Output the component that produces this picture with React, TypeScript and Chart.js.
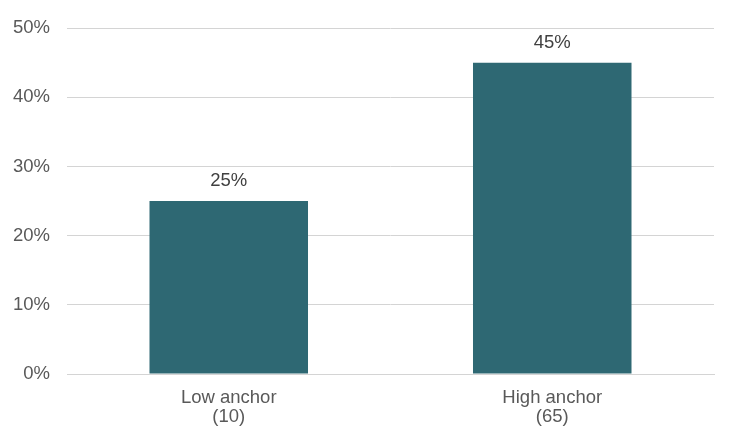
import React, { useEffect, useRef } from "react";
import { Chart, registerables } from "chart.js";

Chart.register(...registerables);

const categories: string[][] = [["Low anchor", "(10)"], ["High anchor", "(65)"]];
const values: number[] = [25, 45];
const yTicks: number[] = [0, 10, 20, 30, 40, 50];

const FONT = "'Liberation Sans', Arial, sans-serif";

const labelPlugin = {
  id: "barLabels",
  afterDatasetsDraw(chart: any) {
    const ctx = chart.ctx;
    const meta = chart.getDatasetMeta(0);
    ctx.save();
    ctx.font = `18.5px ${FONT}`;
    ctx.fillStyle = "#404040";
    ctx.textAlign = "center";
    ctx.textBaseline = "middle";
    meta.data.forEach((bar: any, i: number) => {
      ctx.fillText(`${values[i]}%`, bar.x, bar.y - 20);
    });
    ctx.restore();
  },
};

export default function App() {
  const ref = useRef<HTMLCanvasElement>(null);
  useEffect(() => {
    document.body.style.margin = "0";
    const chart = new Chart(ref.current!, {
      type: "bar",
      data: {
        labels: categories,
        datasets: [
          {
            data: values,
            backgroundColor: "#2E6873",
            categoryPercentage: 1,
            barPercentage: 0.49,
          },
        ],
      },
      options: {
        animation: false,
        responsive: false,
        maintainAspectRatio: false,
        layout: { padding: { left: 0, right: 26, top: 27, bottom: 0 } },
        plugins: { legend: { display: false }, tooltip: { enabled: false } },
        scales: {
          x: {
            grid: { display: false },
            border: { display: true, color: "#d4d4d4", width: 1 },
            ticks: {
              color: "#595959",
              font: { family: FONT, size: 18.5, lineHeight: 1.0 },
              padding: 7,
            },
            afterFit: (s: any) => {
              s.height = 442 - 374;
            },
          },
          y: {
            min: 0,
            max: 50,
            afterBuildTicks: (s: any) => {
              s.ticks = yTicks.map((v) => ({ value: v }));
            },
            grid: { color: "#d4d4d4", lineWidth: 1, drawTicks: false },
            border: { display: false },
            ticks: {
              color: "#595959",
              font: { family: FONT, size: 18.5 },
              padding: 17,
              callback: (v: any) => `${v}%`,
            },
            afterFit: (s: any) => {
              s.width = 67;
            },
          },
        },
      },
      plugins: [labelPlugin],
    });
    return () => chart.destroy();
  }, []);
  return <canvas ref={ref} width={740} height={442} style={{ display: "block" }} />;
}
